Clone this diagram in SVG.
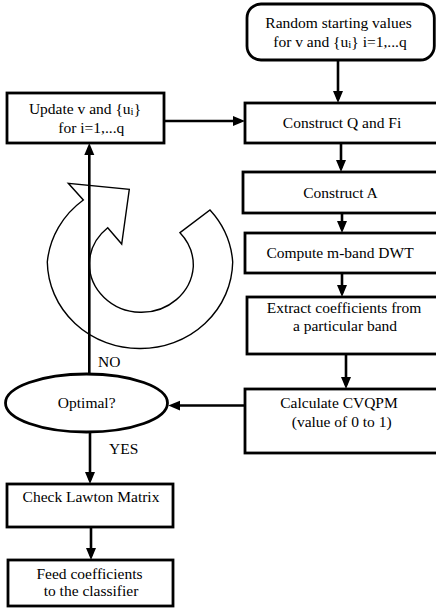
<svg xmlns="http://www.w3.org/2000/svg" width="436" height="609" viewBox="0 0 436 609">
<defs>
<marker id="ah" markerUnits="userSpaceOnUse" markerWidth="14" markerHeight="12" refX="8" refY="5" orient="auto">
<path d="M0,0 L12,5 L0,10 z" fill="#000"/>
</marker>
<style>
.box{fill:#fff;stroke:#000;stroke-width:2.8}
.t{font-family:"Liberation Serif","Times New Roman",serif;font-size:15.5px;fill:#000;text-anchor:middle}
.l{font-family:"Liberation Serif","Times New Roman",serif;font-size:15.5px;fill:#000}
.sub{font-size:11px}
.c{fill:none;stroke:#000;stroke-width:2.6}
.swirl{fill:none;stroke:#000;stroke-width:1.4;stroke-linejoin:miter}
</style>
</defs>
<rect width="436" height="609" fill="#fff"/>

<g id="cycle-symbol">
<path class="swirl" d="M210,210 A92 88 0 0 1 232.7,262 A92 88 0 0 1 140,348.5 A92 88 0 0 1 47.3,262 A92 88 0 0 1 83.3,200 L68.3,183.3 L129.3,189.3 L121.7,244 L107.7,227.7 A52 49 0 0 0 89.3,263.3 A52 49 0 0 0 140,312.3 A52 49 0 0 0 193.3,266.7 A52 49 0 0 0 180,232.7 Z"/>
</g>

<g id="connectors">
<line class="c" x1="338" y1="60" x2="338" y2="99" marker-end="url(#ah)"/>
<line class="c" x1="341" y1="143" x2="341" y2="168" marker-end="url(#ah)"/>
<line class="c" x1="342" y1="213" x2="342" y2="229" marker-end="url(#ah)"/>
<line class="c" x1="342" y1="273" x2="342" y2="293" marker-end="url(#ah)"/>
<line class="c" x1="346" y1="354" x2="346" y2="385" marker-end="url(#ah)"/>
<line class="c" x1="245" y1="405.5" x2="172.3" y2="405.5" marker-end="url(#ah)"/>
<line class="c" x1="89.3" y1="374" x2="89.3" y2="147" marker-end="url(#ah)"/>
<line class="c" x1="164" y1="121" x2="241" y2="121" marker-end="url(#ah)"/>
<line class="c" x1="90" y1="432" x2="90" y2="480" marker-end="url(#ah)"/>
<line class="c" x1="91" y1="527" x2="91" y2="556" marker-end="url(#ah)"/>
<text class="l" x="98" y="367">NO</text>
<text class="l" x="109" y="454">YES</text>
</g>

<g id="start">
<rect class="box" x="247" y="4" width="187.3" height="56" rx="14" ry="14"/>
<text class="t" x="338.5" y="28">Random starting values</text>
<text class="t" x="340" y="47">for v and {u<tspan class="sub" dy="1">i</tspan><tspan dy="-1">} i=1,...q</tspan></text>
</g>

<g id="construct-q">
<rect class="box" x="245" y="103" width="200" height="40"/>
<text class="t" x="342" y="128">Construct Q and Fi</text>
</g>

<g id="construct-a">
<rect class="box" x="243" y="172" width="202" height="41"/>
<text class="t" x="340.5" y="198">Construct A</text>
</g>

<g id="dwt">
<rect class="box" x="245" y="233" width="200" height="40"/>
<text class="t" x="340" y="258">Compute m-band DWT</text>
</g>

<g id="extract">
<rect class="box" x="247" y="297" width="198" height="57"/>
<text class="t" x="344" y="312.5">Extract coefficients from</text>
<text class="t" x="345" y="330.5">a particular band</text>
</g>

<g id="cvqpm">
<rect class="box" x="245" y="389" width="200" height="64"/>
<text class="t" x="339" y="408">Calculate CVQPM</text>
<text class="t" x="341.7" y="427">(value of 0 to 1)</text>
</g>

<g id="update">
<rect class="box" x="7" y="93" width="157" height="50"/>
<text class="t" x="85" y="114">Update v and {u<tspan class="sub" dy="1">i</tspan><tspan dy="-1">}</tspan></text>
<text class="t" x="91.3" y="133">for i=1,...q</text>
</g>

<g id="optimal">
<ellipse class="box" cx="86.5" cy="403" rx="81" ry="29"/>
<text class="t" x="86.7" y="408">Optimal?</text>
</g>

<g id="lawton">
<rect class="box" x="7" y="484" width="166" height="43"/>
<text class="t" x="91" y="502.3">Check Lawton Matrix</text>
</g>

<g id="feed">
<rect class="box" x="8" y="560" width="165" height="46"/>
<text class="t" x="89.5" y="579.3">Feed coefficients</text>
<text class="t" x="91" y="596">to the classifier</text>
</g>
</svg>
